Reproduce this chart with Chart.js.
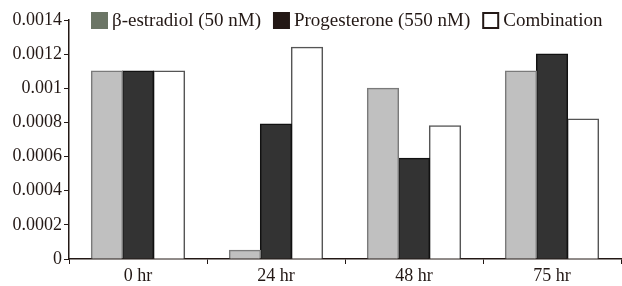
<!DOCTYPE html>
<html>
<head>
<meta charset="utf-8">
<script src="https://cdn.jsdelivr.net/npm/chart.js@4/dist/chart.umd.min.js"></script>
<style>
  html, body { margin: 0; padding: 0; background: #fff; }
  #wrap { width: 622px; height: 286px; position: relative; }
</style>
</head>
<body>
<div id="wrap"><canvas id="grafico"></canvas></div>
<script>
// valores
const categorias = ['0 hr', '24 hr', '48 hr', '75 hr'];
const estradiol = [0.0011, 0.00005, 0.001, 0.0011];
const progesterona = [0.0011, 0.00079, 0.00059, 0.0012];
const combinacao = [0.0011, 0.00124, 0.00078, 0.00082];
const nomesSeries = ['β-estradiol (50 nM)', 'Progesterone (550 nM)', 'Combination'];
const coresLegenda = ['#6b7565', '#231815', '#ffffff'];

const fonte = "'Liberation Serif', serif";

// legenda desenhada por cima da área do gráfico, como no original
const legendaPlugin = {
  id: 'legendaTopo',
  afterDraw(chart) {
    const ctx = chart.ctx;
    ctx.save();
    ctx.font = '19px ' + fonte;
    ctx.textBaseline = 'middle';
    let x = 91;
    const y = 20;
    chart.data.datasets.forEach((ds, i) => {
      ctx.fillStyle = coresLegenda[i];
      ctx.fillRect(x, y - 8, 17, 17);
      if (i === 2) {
        ctx.strokeStyle = '#231815';
        ctx.lineWidth = 2;
        ctx.strokeRect(x + 1, y - 7, 15, 15);
      }
      x += 21;
      ctx.fillStyle = '#231815';
      ctx.fillText(ds.label, x, y + 1);
      x += ctx.measureText(ds.label).width + 12;
    });
    ctx.restore();
  }
};

const ctx = document.getElementById('grafico').getContext('2d');
new Chart(ctx, {
  type: 'bar',
  data: {
    labels: categorias,
    datasets: [
      { label: nomesSeries[0], data: estradiol, backgroundColor: '#c0c0c0', borderColor: '#7a7a7a', borderWidth: 1.5 },
      { label: nomesSeries[1], data: progesterona, backgroundColor: '#333333', borderColor: '#111111', borderWidth: 1.5 },
      { label: nomesSeries[2], data: combinacao, backgroundColor: '#ffffff', borderColor: '#555555', borderWidth: 1.5 }
    ]
  },
  options: {
    responsive: true,
    maintainAspectRatio: false,
    animation: false,
    layout: { padding: { top: 20, right: 1, left: 0, bottom: 0 } },
    plugins: { legend: { display: false }, tooltip: { enabled: false } },
    datasets: { bar: { categoryPercentage: 0.674, barPercentage: 1, inflateAmount: 0.6 } },
    scales: {
      x: {
        grid: { display: true, drawOnChartArea: false, drawTicks: true, tickLength: 5, color: '#231815', offset: true },
        border: { display: true, color: '#231815', width: 1.5 },
        ticks: { color: '#231815', font: { family: fonte, size: 18 }, padding: 1 },
        afterFit(scale) { scale.height = 27; }
      },
      y: {
        min: 0,
        max: 0.0014,
        grid: { display: true, drawOnChartArea: false, drawTicks: true, tickLength: 5, color: '#231815' },
        border: { display: true, color: '#231815', width: 1.5 },
        ticks: {
          stepSize: 0.0002,
          color: '#231815',
          font: { family: fonte, size: 18 },
          padding: 2,
          callback: v => parseFloat(v.toFixed(4)).toString()
        },
        afterFit(scale) { scale.width = 69; }
      }
    }
  },
  plugins: [legendaPlugin]
});
</script>
</body>
</html>
